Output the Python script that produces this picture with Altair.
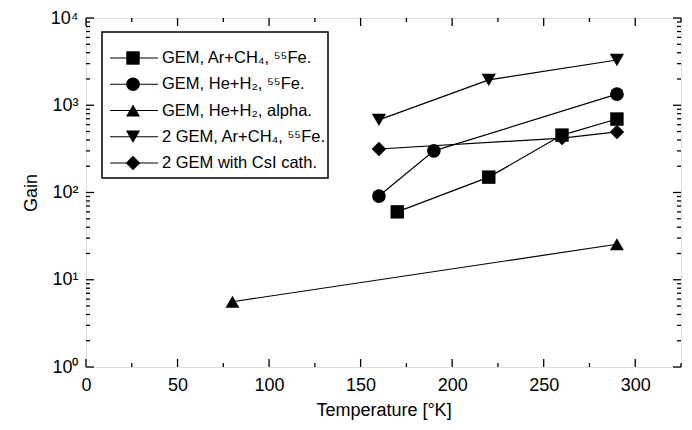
import altair as alt
import pandas as pd

# ---- data ----
series_names = [
    "GEM, Ar+CH₄, ⁵⁵Fe.",
    "GEM, He+H₂, ⁵⁵Fe.",
    "GEM, He+H₂, alpha.",
    "2 GEM, Ar+CH₄, ⁵⁵Fe.",
    "2 GEM with CsI cath.",
]
series_shapes = ["square", "circle", "triangle-up", "triangle-down", "diamond"]
series_sizes = [180, 210, 300, 330, 240]

t_gem_ar = [170, 220, 260, 290]
g_gem_ar = [60, 150, 455, 695]
t_gem_he = [160, 190, 290]
g_gem_he = [91, 300, 1340]
t_gem_alpha = [80, 290]
g_gem_alpha = [5.6, 25.5]
t_2gem_ar = [160, 220, 290]
g_2gem_ar = [680, 1950, 3300]
t_2gem_csi = [160, 260, 290]
g_2gem_csi = [315, 420, 495]

x_major = [0, 50, 100, 150, 200, 250, 300]
x_minor = [25, 75, 125, 175, 225, 275, 325]
y_major = [1, 10, 100, 1000, 10000]
y_minor = [m * d for d in [1, 10, 100, 1000] for m in range(2, 10)]

# ---- build tables ----
rows = []
for name, ts, gs in zip(series_names,
                        [t_gem_ar, t_gem_he, t_gem_alpha, t_2gem_ar, t_2gem_csi],
                        [g_gem_ar, g_gem_he, g_gem_alpha, g_2gem_ar, g_2gem_csi]):
    for t, g in zip(ts, gs):
        rows.append({"series": name, "T": t, "G": g})
df = pd.DataFrame(rows)

W, H = 595, 349
FONT = "Liberation Sans"

xs = alt.Scale(domain=[0, 325], nice=False, zero=False)
ys = alt.Scale(type="log", domain=[1, 10000], nice=False)

xaxis = alt.Axis(values=x_major, ticks=False, domain=False, grid=False,
                 labelFontSize=18, labelPadding=9, labelColor="black",
                 labelFont=FONT, title="Temperature [°K]", titleFont=FONT,
                 titleFontSize=18, titleFontWeight="normal", titleColor="black",
                 titlePadding=7, labelFlush=False)
yaxis = alt.Axis(values=y_major, ticks=False, domain=False, grid=False,
                 labelFontSize=18, labelPadding=8, labelColor="black",
                 labelFont=FONT,
                 labelExpr="'10' + ['⁰','¹','²','³','⁴'][round(log(datum.value)/LN10)]",
                 title="Gain", titleFont=FONT, titleFontSize=18,
                 titleFontWeight="normal", titleColor="black", titlePadding=10,
                 labelFlush=False)

X = lambda: alt.X("T:Q", scale=xs, axis=xaxis)
Y = lambda: alt.Y("G:Q", scale=ys, axis=yaxis)
shape_enc = alt.Shape("series:N", scale=alt.Scale(domain=series_names, range=series_shapes), legend=None)
size_enc = alt.Size("series:N", scale=alt.Scale(domain=series_names, range=series_sizes), legend=None)

base = alt.Chart(df)
lines = base.mark_line(color="black", strokeWidth=1.2).encode(
    x=X(), y=Y(), detail="series:N", order="T:Q")
points = base.mark_point(filled=True, color="black", opacity=1).encode(
    x=X(), y=Y(), shape=shape_enc, size=size_enc)

# inward ticks on all four sides
xmaj = pd.DataFrame({"T": x_major})
xmin = pd.DataFrame({"T": x_minor})
ymaj = pd.DataFrame({"G": y_major})
ymin = pd.DataFrame({"G": y_minor})

def xt(d, ln, top):
    if top:
        return alt.Chart(d).mark_rule(color="black", strokeWidth=1.3).encode(
            x=X(), y=alt.value(0), y2=alt.value(ln))
    return alt.Chart(d).mark_rule(color="black", strokeWidth=1.3).encode(
        x=X(), y=alt.value(H), y2=alt.value(H - ln))

def yt(d, ln, right):
    if right:
        return alt.Chart(d).mark_rule(color="black", strokeWidth=1.3).encode(
            y=Y(), x=alt.value(W), x2=alt.value(W - ln))
    return alt.Chart(d).mark_rule(color="black", strokeWidth=1.3).encode(
        y=Y(), x=alt.value(0), x2=alt.value(ln))

ticks = [xt(xmaj, 8, False), xt(xmin, 4, False), xt(xmaj, 8, True), xt(xmin, 4, True),
         yt(ymaj, 8, False), yt(ymin, 4, False), yt(ymaj, 8, True), yt(ymin, 4, True)]

# manual legend (box + line + marker + text)
leg = pd.DataFrame({"series": series_names, "i": list(range(len(series_names)))})
leg_base = alt.Chart(leg).transform_calculate(ly="40 + datum.i * 26.25")
box = alt.Chart(pd.DataFrame({"k": [0]})).mark_rect(
    fill="white", stroke="black", strokeWidth=1.5).encode(
    x=alt.value(16), x2=alt.value(242), y=alt.value(14), y2=alt.value(160))
leg_line = leg_base.mark_rule(color="black", strokeWidth=1.2).encode(
    x=alt.value(24), x2=alt.value(72), y=alt.Y("ly:Q", scale=None))
leg_pt = leg_base.mark_point(filled=True, color="black", opacity=1).encode(
    x=alt.value(47), y=alt.Y("ly:Q", scale=None), shape=shape_enc, size=size_enc)
leg_txt = leg_base.mark_text(align="left", baseline="middle", fontSize=16.5,
                             font=FONT, color="black").encode(
    x=alt.value(76), y=alt.Y("ly:Q", scale=None), text="series:N")

chart = alt.layer(lines, points, *ticks, box, leg_line, leg_pt, leg_txt).properties(
    width=W, height=H,
    autosize=alt.AutoSizeParams(type="none"),
    padding={"left": 86, "top": 18, "right": 11, "bottom": 63},
).configure_view(stroke="black", strokeWidth=1.6).configure(background="white")

chart.save("out.html", embed_options={"renderer": "svg", "actions": False})
